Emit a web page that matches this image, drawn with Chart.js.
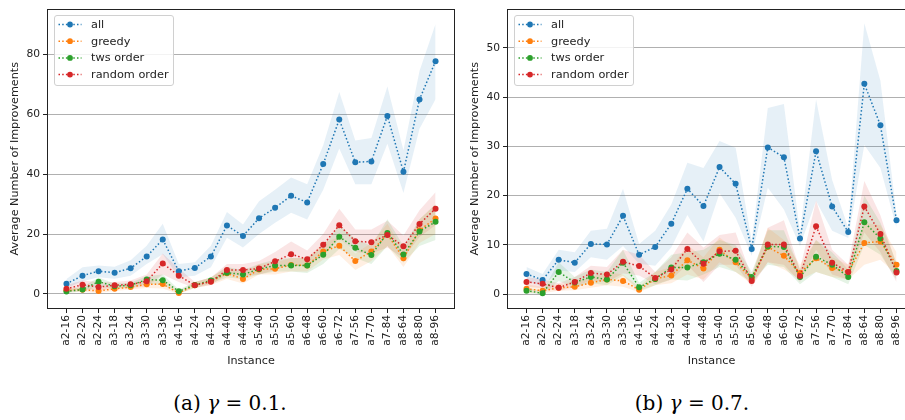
<!DOCTYPE html>
<html>
<head>
<meta charset="utf-8">
<script src="https://cdn.jsdelivr.net/npm/chart.js@4.4.1/dist/chart.umd.min.js"></script>
<style>
  html, body { margin: 0; padding: 0; background: #fff; width: 905px; height: 420px; overflow: hidden; }
  .panel { position: absolute; top: 0; }
  .cap { position: absolute; top: 391px; width: 220px; text-align: center; line-height: 24px;
         font-family: 'DejaVu Serif', serif; font-size: 20px; color: #000; }
</style>
</head>
<body>
<canvas id="chartA" class="panel" width="460" height="370" style="left:0"></canvas>
<canvas id="chartB" class="panel" width="466" height="370" style="left:455px"></canvas>
<div class="cap" style="left:120px">(a) <i>γ</i> = 0.1.</div>
<div class="cap" style="left:582px">(b) <i>γ</i> = 0.7.</div>
<script>
/* DATA */
const instances = ['a2-16', 'a2-20', 'a2-24', 'a3-18', 'a3-24', 'a3-30', 'a3-36', 'a4-16',
  'a4-24', 'a4-32', 'a4-40', 'a4-48', 'a5-40', 'a5-50', 'a5-60', 'a6-48', 'a6-60', 'a6-72',
  'a7-56', 'a7-70', 'a7-84', 'a8-64', 'a8-80', 'a8-96'];
const seriesNames = ['all', 'greedy', 'tws order', 'random order'];

// (a) gamma = 0.1
const allA = [3.4, 6.1, 7.6, 7.1, 8.6, 12.5, 18.2, 7.6, 8.7, 12.5, 22.9, 19.4, 25.3, 28.8, 32.8, 30.6, 43.4, 58.3, 44.0, 44.3, 59.5, 40.8, 65.0, 77.8];
const greedyA = [1.2, 1.4, 1.0, 1.7, 2.3, 3.2, 3.3, 0.3, 2.9, 4.2, 6.9, 5.0, 8.2, 8.4, 9.7, 9.5, 14.2, 16.1, 11.0, 14.2, 19.9, 11.9, 21.3, 25.2];
const twsA = [0.8, 1.5, 4.1, 2.6, 2.9, 4.8, 4.6, 0.9, 3.0, 4.5, 7.1, 6.5, 8.3, 9.5, 9.5, 9.5, 13.1, 19.1, 15.4, 13.0, 20.4, 13.2, 20.9, 24.1];
const randomA = [1.7, 3.1, 2.3, 2.9, 3.2, 4.2, 10.2, 6.1, 2.9, 4.1, 8.0, 8.0, 8.5, 10.9, 13.3, 11.6, 16.4, 23.0, 17.6, 17.3, 19.7, 15.9, 23.4, 28.5];
const allLoA = [2.0, 4.2, 5.6, 5.1, 6.1, 10.0, 13.3, 5.6, 6.1, 8.9, 18.8, 15.5, 20.0, 23.8, 27.1, 24.9, 34.8, 48.6, 36.7, 36.7, 50.2, 33.7, 55.2, 65.1];
const allHiA = [5.0, 8.9, 9.5, 9.1, 11.3, 16.1, 23.5, 10.0, 10.6, 16.1, 27.4, 23.2, 31.0, 34.8, 38.9, 36.7, 49.7, 67.5, 51.3, 52.1, 69.3, 48.0, 74.5, 90.2];
const greedyLoA = [0.5, 0.7, 0.3, 1.0, 1.5, 2.0, 1.8, 0.0, 2.0, 3.0, 5.0, 3.5, 6.5, 6.5, 7.5, 7.5, 11.5, 13.0, 8.0, 11.0, 16.0, 9.0, 17.0, 20.0];
const greedyHiA = [2.0, 2.2, 2.0, 2.7, 3.3, 4.5, 5.0, 1.0, 4.0, 5.5, 9.0, 7.0, 10.0, 10.5, 12.0, 12.0, 17.0, 19.0, 13.5, 17.0, 23.5, 14.5, 25.0, 30.0];
const twsLoA = [0.3, 0.8, 2.5, 1.8, 2.0, 3.5, 3.0, 0.2, 2.0, 3.5, 5.5, 5.0, 6.5, 7.5, 7.5, 7.0, 10.0, 15.0, 12.0, 10.0, 16.0, 10.5, 16.0, 18.0];
const twsHiA = [1.5, 2.3, 5.5, 3.5, 3.7, 6.0, 6.5, 1.5, 4.0, 5.5, 9.0, 8.0, 10.0, 11.5, 12.0, 12.0, 16.0, 23.0, 18.5, 16.0, 25.0, 16.0, 25.0, 30.0];
const randomLoA = [0.5, 1.8, 1.0, 1.8, 2.0, 2.5, 6.5, 4.0, 2.0, 3.0, 6.5, 6.0, 6.5, 8.0, 10.0, 9.0, 13.0, 18.5, 14.0, 13.5, 15.5, 12.0, 19.0, 23.0];
const randomHiA = [3.0, 4.5, 4.0, 4.0, 4.5, 6.5, 13.5, 8.5, 4.0, 5.5, 10.0, 10.0, 11.0, 14.0, 17.5, 14.5, 20.0, 28.5, 21.5, 21.5, 24.5, 19.5, 28.0, 34.0];
const yTicksA = [0, 20, 40, 60, 80];

// (b) gamma = 0.7
const allB = [4.1, 2.9, 7.0, 6.4, 10.2, 10.1, 15.9, 8.0, 9.6, 14.3, 21.4, 17.9, 25.8, 22.4, 9.2, 29.8, 27.8, 11.3, 29.0, 17.8, 12.6, 42.7, 34.3, 15.0];
const greedyB = [1.1, 0.7, 1.3, 1.5, 2.3, 3.0, 2.7, 0.9, 3.1, 3.8, 6.9, 5.2, 9.0, 6.5, 3.1, 9.6, 7.8, 4.3, 7.3, 5.3, 4.5, 10.4, 10.7, 6.0];
const twsB = [0.7, 0.2, 4.5, 2.4, 3.5, 3.0, 6.4, 1.4, 3.1, 5.4, 5.4, 6.5, 8.2, 7.0, 3.5, 9.7, 9.6, 3.5, 7.6, 6.0, 3.5, 14.6, 11.3, 4.7];
const randomB = [2.5, 2.1, 1.3, 2.5, 4.3, 4.0, 6.6, 5.7, 3.3, 5.0, 9.2, 6.2, 8.7, 8.8, 2.7, 10.1, 10.1, 3.7, 13.8, 6.4, 4.5, 17.8, 12.2, 4.4];
const allLoB = [2.8, 1.5, 4.8, 4.5, 7.5, 7.0, 9.8, 6.2, 5.8, 9.5, 16.1, 10.7, 20.5, 15.5, 7.8, 21.6, 17.2, 9.8, 18.9, 12.9, 11.4, 30.3, 25.6, 13.5];
const allHiB = [5.5, 4.1, 9.0, 8.5, 12.9, 13.3, 21.4, 10.2, 12.9, 18.2, 26.7, 25.6, 31.1, 29.7, 10.8, 37.8, 38.6, 12.5, 39.5, 23.2, 13.5, 55.0, 43.3, 16.2];
const greedyLoB = [0.3, 0.2, 0.7, 0.8, 1.3, 1.8, 1.5, 0.4, 1.8, 2.2, 4.0, 3.0, 6.5, 4.5, 2.0, 6.5, 5.0, 3.0, 4.5, 3.5, 3.0, 6.0, 7.0, 4.0];
const greedyHiB = [2.0, 1.5, 2.0, 2.5, 3.5, 4.5, 4.0, 1.5, 4.5, 5.5, 10.0, 7.5, 11.5, 9.0, 4.0, 13.5, 11.0, 6.0, 11.0, 7.5, 6.0, 14.5, 14.0, 8.5];
const twsLoB = [0.2, 0.0, 2.7, 1.4, 2.2, 1.8, 3.8, 0.7, 1.8, 3.0, 2.8, 4.0, 5.5, 4.5, 2.5, 6.0, 5.5, 2.0, 4.5, 3.5, 2.0, 10.0, 8.0, 3.0];
const twsHiB = [1.3, 0.7, 6.5, 3.5, 5.0, 4.5, 9.0, 2.3, 4.5, 8.0, 8.5, 9.0, 11.0, 10.0, 4.5, 13.0, 13.0, 5.0, 11.0, 8.5, 5.0, 20.0, 14.5, 6.5];
const randomLoB = [1.5, 1.2, 0.6, 1.5, 2.8, 2.5, 4.2, 3.8, 2.0, 3.0, 6.0, 2.5, 6.0, 6.0, 1.5, 6.5, 6.0, 2.5, 9.0, 4.0, 3.0, 12.5, 8.5, 2.5];
const randomHiB = [3.5, 3.0, 2.2, 3.5, 5.8, 5.5, 9.0, 8.0, 4.5, 7.5, 12.5, 9.5, 12.0, 12.5, 3.5, 13.5, 15.0, 5.0, 19.0, 9.0, 6.0, 23.0, 16.0, 6.0];
const yTicksB = [0, 10, 20, 30, 40, 50];

/* STYLE */
const colors = ['#1f77b4', '#ff7f0e', '#2ca02c', '#d62728'];
const bands = ['rgba(31,119,180,0.11)', 'rgba(255,127,14,0.12)', 'rgba(44,160,44,0.12)', 'rgba(214,39,40,0.12)'];
const dash = [1.5, 2.2];
const ink = '#222';
const sans = 'DejaVu Sans';

/* PLUGINS */
const framePlugin = {
  id: 'frame',
  afterDraw(chart) {
    const { ctx, chartArea: a } = chart;
    ctx.save();
    ctx.strokeStyle = ink;
    ctx.lineWidth = 1;
    ctx.strokeRect(Math.round(a.left) - 0.5, Math.round(a.top) + 0.5,
      Math.round(a.right - a.left) + 1, Math.round(a.bottom - a.top));
    ctx.restore();
  },
};

const legendPlugin = {
  id: 'insideLegend',
  afterDraw(chart) {
    const { ctx, chartArea: a } = chart;
    const x0 = Math.round(a.left) + 6.5, y0 = Math.round(a.top) + 6.5;
    ctx.save();
    ctx.fillStyle = 'rgba(255,255,255,0.85)';
    ctx.strokeStyle = '#d0d0d0';
    ctx.lineWidth = 1;
    ctx.beginPath();
    ctx.roundRect(x0, y0, 119, 70, 2.5);
    ctx.fill();
    ctx.stroke();
    seriesNames.forEach((name, k) => {
      const y = y0 + 9 + k * 16.7;
      ctx.strokeStyle = colors[k];
      ctx.lineWidth = 1.5;
      ctx.setLineDash(dash);
      ctx.beginPath();
      ctx.moveTo(x0 + 4, y);
      ctx.lineTo(x0 + 27, y);
      ctx.stroke();
      ctx.setLineDash([]);
      ctx.fillStyle = colors[k];
      ctx.beginPath();
      ctx.arc(x0 + 15.5, y, 2.9, 0, Math.PI * 2);
      ctx.fill();
      ctx.fillStyle = ink;
      ctx.font = '11.3px ' + sans;
      ctx.textBaseline = 'middle';
      ctx.fillText(name, x0 + 36.5, y + 0.5);
    });
    ctx.restore();
  },
};

/* CHART HELPER */
const pts = (arr) => arr.map((v, i) => ({ x: i, y: v }));

function makeChart(id, means, los, his, yMin, yMax, yTicks, yAxisWidth, titleGap) {
  const datasets = [];
  means.forEach((m, k) => {
    const lowIndex = datasets.length;
    datasets.push({ data: pts(los[k]), borderWidth: 0, pointRadius: 0, fill: false, order: 10 });
    datasets.push({
      data: pts(his[k]), borderWidth: 0, pointRadius: 0, order: 10,
      fill: { target: lowIndex, above: bands[k], below: bands[k] },
    });
  });
  means.forEach((m, k) => {
    datasets.push({
      label: seriesNames[k],
      data: pts(m),
      borderColor: colors[k],
      borderWidth: 1.5,
      borderDash: dash,
      pointRadius: 3,
      pointBorderWidth: 0,
      pointBackgroundColor: colors[k],
      fill: false,
      tension: 0,
      order: 3 - k,
    });
  });

  return new Chart(document.getElementById(id), {
    type: 'line',
    data: { datasets },
    plugins: [framePlugin, legendPlugin],
    options: {
      responsive: false,
      animation: false,
      events: [],
      layout: { padding: { top: 6, right: 6, left: 0, bottom: 0 } },
      plugins: {
        legend: { display: false },
        tooltip: { enabled: false },
        filler: { drawTime: 'beforeDatasetsDraw' },
      },
      scales: {
        x: {
          type: 'linear',
          min: -1.15,
          max: 24.15,
          afterBuildTicks: (s) => { s.ticks = instances.map((_, i) => ({ value: i })); },
          afterFit: (s) => { s.height = 62; },
          grid: { drawOnChartArea: false, drawTicks: true, tickLength: 5, tickColor: ink },
          border: { display: false },
          ticks: {
            autoSkip: false, minRotation: 90, maxRotation: 90, padding: 2,
            color: ink, font: { family: sans, size: 10.7 },
            callback: (v) => instances[Math.round(v)],
          },
          title: { display: true, text: 'Instance', color: ink,
                   font: { family: sans, size: 11.2 }, padding: { top: 0, bottom: 2 } },
        },
        y: {
          type: 'linear',
          min: yMin,
          max: yMax,
          afterBuildTicks: (s) => { s.ticks = yTicks.map((v) => ({ value: v })); },
          afterFit: (s) => { s.width = yAxisWidth; },
          grid: { color: '#b0b0b0', lineWidth: 1, drawTicks: true, tickLength: 5, tickColor: ink },
          border: { display: false },
          ticks: { padding: 3, color: ink, font: { family: sans, size: 10.7 } },
          title: { display: true, text: 'Average Number of Improvements', color: ink,
                   font: { family: sans, size: 11.2 }, padding: { top: titleGap, bottom: 0 } },
        },
      },
    },
  });
}

makeChart('chartA',
  [allA, greedyA, twsA, randomA],
  [allLoA, greedyLoA, twsLoA, randomLoA],
  [allHiA, greedyHiA, twsHiA, randomHiA],
  -4.7, 95.1, yTicksA, 48, 8);

makeChart('chartB',
  [allB, greedyB, twsB, randomB],
  [allLoB, greedyLoB, twsLoB, randomLoB],
  [allHiB, greedyHiB, twsHiB, randomHiB],
  -2.8, 57.8, yTicksB, 53, 13.5);
</script>
</body>
</html>
